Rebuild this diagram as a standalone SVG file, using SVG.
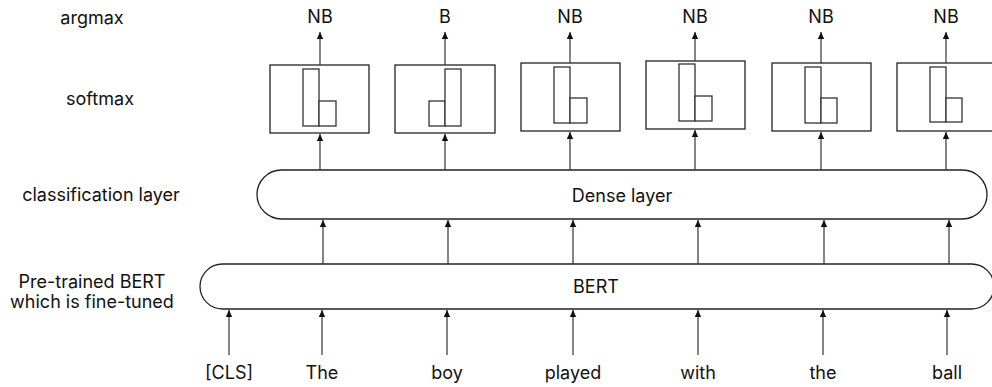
<svg xmlns="http://www.w3.org/2000/svg" width="992" height="387" viewBox="0 0 992 387">
<defs>
<marker id="ah" viewBox="0 0 8 8" refX="7" refY="4" markerWidth="8" markerHeight="8" markerUnits="userSpaceOnUse" orient="auto">
<path d="M0,0.8 L7,4 L0,7.2 Z" fill="#111"/>
</marker>
</defs>
<style>
text{font-family:Inter,"Liberation Sans",sans-serif;font-size:18px;fill:#111;text-anchor:middle}
.box{fill:#fff;stroke:#222;stroke-width:1.3}
.bar{fill:#fff;stroke:#333;stroke-width:1.3}
.conn line{stroke:#333;stroke-width:1.2}
.arr{marker-end:url(#ah)}
</style>
<rect width="992" height="387" fill="#fff"/>
<g id="labels">
<text x="92" y="24">argmax</text>
<text x="100" y="105">softmax</text>
<text x="101" y="201">classification layer</text>
<text x="92" y="288">Pre-trained BERT</text>
<text x="92" y="308">which is fine-tuned</text>
</g>
<g id="dense"><rect class="box" x="257" y="170" width="730" height="49" rx="24.5"/><text x="622" y="202">Dense layer</text></g>
<g id="bert"><rect class="box" x="200" y="264" width="794" height="45" rx="22.5"/><text x="596" y="293">BERT</text></g>
<g id="sm1"><rect class="box" x="270" y="65" width="99" height="68"/><rect class="bar" x="303" y="69" width="16" height="57"/><rect class="bar" x="319" y="101" width="17" height="25"/></g>
<g id="sm2"><rect class="box" x="395" y="65" width="100" height="68"/><rect class="bar" x="429" y="101" width="16" height="25"/><rect class="bar" x="445" y="69" width="16" height="57"/></g>
<g id="sm3"><rect class="box" x="521" y="63" width="99" height="68"/><rect class="bar" x="554" y="67" width="16" height="56"/><rect class="bar" x="570" y="98" width="17" height="25"/></g>
<g id="sm4"><rect class="box" x="646" y="61" width="99" height="68"/><rect class="bar" x="679" y="64" width="16" height="57"/><rect class="bar" x="695" y="96" width="17" height="25"/></g>
<g id="sm5"><rect class="box" x="772" y="63" width="99" height="68"/><rect class="bar" x="805" y="67" width="16" height="56"/><rect class="bar" x="821" y="98" width="16" height="25"/></g>
<g id="sm6"><rect class="box" x="897" y="63" width="99" height="68"/><rect class="bar" x="930" y="67" width="16" height="55"/><rect class="bar" x="946" y="98" width="16" height="24"/></g>
<g id="outputs">
<text x="320" y="23">NB</text>
<text x="445" y="23">B</text>
<text x="570" y="23">NB</text>
<text x="695" y="23">NB</text>
<text x="821" y="23">NB</text>
<text x="946" y="23">NB</text>
</g>
<g id="words">
<text x="229" y="379">[CLS]</text>
<text x="322" y="379">The</text>
<text x="447" y="379">boy</text>
<text x="573" y="379">played</text>
<text x="698" y="379">with</text>
<text x="823" y="379">the</text>
<text x="947" y="379">ball</text>
</g>
<g class="conn" id="connectors">
<line class="arr" x1="229" y1="355" x2="229" y2="310"/>
<line class="arr" x1="322" y1="355" x2="322" y2="310"/>
<line class="arr" x1="447" y1="355" x2="447" y2="310"/>
<line class="arr" x1="573" y1="355" x2="573" y2="310"/>
<line class="arr" x1="698" y1="355" x2="698" y2="310"/>
<line class="arr" x1="823" y1="355" x2="823" y2="310"/>
<line class="arr" x1="947" y1="355" x2="947" y2="310"/>
<line class="arr" x1="323" y1="264" x2="323" y2="220"/>
<line class="arr" x1="448" y1="264" x2="448" y2="220"/>
<line class="arr" x1="573" y1="264" x2="573" y2="220"/>
<line class="arr" x1="698" y1="264" x2="698" y2="220"/>
<line class="arr" x1="824" y1="264" x2="824" y2="220"/>
<line class="arr" x1="949" y1="264" x2="949" y2="220"/>
<line class="arr" x1="320" y1="170" x2="320" y2="134"/>
<line class="arr" x1="445" y1="170" x2="445" y2="134"/>
<line class="arr" x1="570" y1="170" x2="570" y2="132"/>
<line class="arr" x1="695" y1="170" x2="695" y2="130"/>
<line class="arr" x1="821" y1="170" x2="821" y2="132"/>
<line class="arr" x1="946" y1="170" x2="946" y2="132"/>
<line class="arr" x1="320" y1="65" x2="320" y2="32"/>
<line class="arr" x1="445" y1="65" x2="445" y2="32"/>
<line class="arr" x1="570" y1="63" x2="570" y2="32"/>
<line class="arr" x1="695" y1="61" x2="695" y2="32"/>
<line class="arr" x1="821" y1="63" x2="821" y2="32"/>
<line class="arr" x1="946" y1="63" x2="946" y2="32"/>
</g>
</svg>
